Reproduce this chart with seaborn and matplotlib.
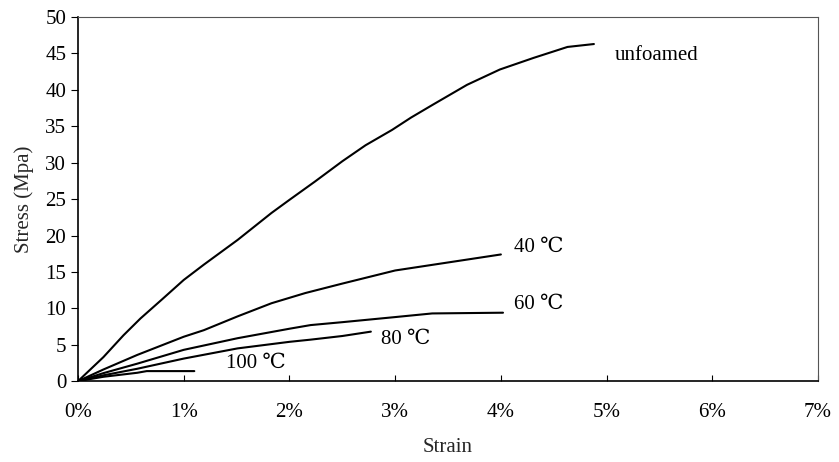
import matplotlib
matplotlib.use("Agg")
import matplotlib.pyplot as plt
import seaborn as sns
import pandas as pd
from matplotlib.ticker import PercentFormatter, MultipleLocator

# Data (strain as fraction, stress in MPa)
unfoamed_x = [0, 0.0024, 0.0043, 0.0059, 0.008, 0.01, 0.0119, 0.0151, 0.0183, 0.02, 0.0224,
              0.025, 0.0272, 0.0297, 0.0315, 0.0336, 0.0368, 0.0399, 0.0431, 0.0463, 0.0488]
unfoamed_y = [0, 3.3, 6.3, 8.6, 11.3, 13.9, 16.0, 19.4, 23.1, 24.9, 27.4,
              30.2, 32.4, 34.5, 36.2, 38.0, 40.7, 42.8, 44.4, 45.9, 46.3]

c40_x = [0, 0.0024, 0.0056, 0.01, 0.0119, 0.0151, 0.0183, 0.0215, 0.025, 0.03, 0.035, 0.04]
c40_y = [0, 1.6, 3.6, 6.1, 7.0, 8.9, 10.7, 12.1, 13.4, 15.2, 16.3, 17.4]

c60_x = [0, 0.0024, 0.0056, 0.01, 0.0151, 0.02, 0.022, 0.025, 0.03, 0.0335, 0.0402]
c60_y = [0, 1.1, 2.4, 4.3, 5.9, 7.2, 7.7, 8.1, 8.8, 9.3, 9.4]

c80_x = [0, 0.0024, 0.0056, 0.01, 0.0151, 0.02, 0.022, 0.025, 0.0277]
c80_y = [0, 0.8, 1.7, 3.1, 4.5, 5.4, 5.7, 6.2, 6.8]

c100_x = [0, 0.0024, 0.0056, 0.0065, 0.011]
c100_y = [0, 0.6, 1.15, 1.38, 1.38]

series = [
    ("unfoamed", unfoamed_x, unfoamed_y),
    ("40 ℃", c40_x, c40_y),
    ("60 ℃", c60_x, c60_y),
    ("80 ℃", c80_x, c80_y),
    ("100 ℃", c100_x, c100_y),
]

rows = []
for name, xs, ys in series:
    for x, y in zip(xs, ys):
        rows.append({"series": name, "Strain": x, "Stress": y})
df = pd.DataFrame(rows)

sns.set_style("white")
plt.rcParams["font.family"] = ["Liberation Serif", "DejaVu Serif"]

fig, ax = plt.subplots(figsize=(8.39, 4.62), dpi=100)
fig.subplots_adjust(left=0.093, right=0.975, top=0.963, bottom=0.175)

sns.lineplot(data=df, x="Strain", y="Stress", units="series", estimator=None,
             color="black", linewidth=1.5, sort=False, ax=ax, legend=False)

ax.set_xlim(0, 0.07)
ax.set_ylim(0, 50)
ax.xaxis.set_major_locator(MultipleLocator(0.01))
ax.xaxis.set_major_formatter(PercentFormatter(1, decimals=0))
ax.yaxis.set_major_locator(MultipleLocator(5))

ax.tick_params(axis="x", direction="in", length=4, labelsize=15, pad=16, colors="black", bottom=True)
ax.tick_params(axis="y", direction="out", length=5, labelsize=15, left=True, colors="black")

for s in ["left", "bottom"]:
    ax.spines[s].set_color("black")
    ax.spines[s].set_linewidth(1.2)
for s in ["top", "right"]:
    ax.spines[s].set_color("#555555")
    ax.spines[s].set_linewidth(0.8)

ax.set_xlabel("Strain", fontsize=15, labelpad=11)
ax.set_ylabel("Stress (Mpa)", fontsize=15, labelpad=8)

label_pos = {
    "unfoamed": (0.0508, 44.7),
    "40 ℃": (0.0412, 18.4),
    "60 ℃": (0.0412, 10.5),
    "80 ℃": (0.0287, 5.8),
    "100 ℃": (0.0140, 2.4),
}
for name, (lx, ly) in label_pos.items():
    ax.text(lx, ly, name, fontsize=15, va="center", ha="left", color="black")

fig.savefig("out.png", dpi=100)
